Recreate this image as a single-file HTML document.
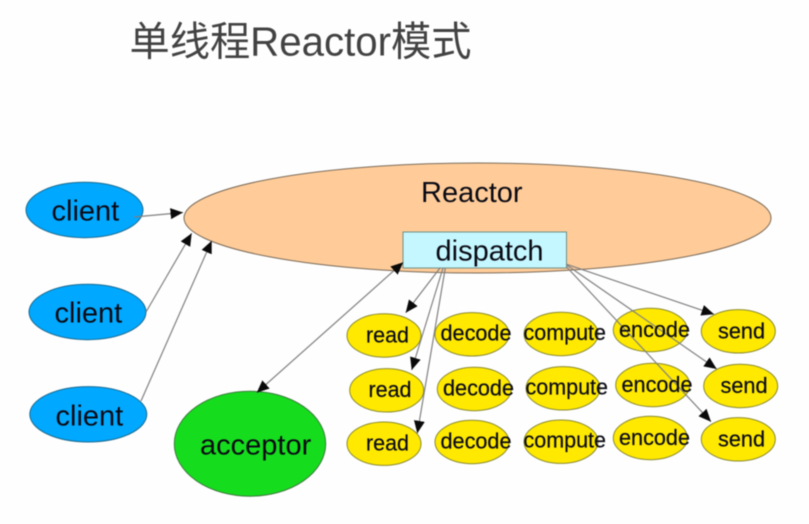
<!DOCTYPE html>
<html><head><meta charset="utf-8"><style>
html,body{margin:0;padding:0;background:#fefefe;width:809px;height:524px;overflow:hidden}
svg{display:block;filter:blur(.45px)}
text{font-family:"Liberation Sans","Noto Sans CJK SC",sans-serif;fill:#0a0a14}
.s{font-size:22.4px}.s text{stroke:#0a0a14;stroke-width:.2}.b{font-size:29px}
.y{fill:#ffe900;stroke:#8a8a30;stroke-width:1}
.c{fill:#00a8ff;stroke:#1a6a90;stroke-width:1}
.l{stroke:#808080;stroke-width:1.2;fill:none;marker-end:url(#a)}
</style></head><body>
<svg width="809" height="524" viewBox="0 0 809 524" xmlns="http://www.w3.org/2000/svg">
<defs>
<marker id="a" markerUnits="userSpaceOnUse" markerWidth="14" markerHeight="12" refX="12.500" refY="6" orient="auto"><path d="M0 0.500L12.500 6L0 11.500z" fill="#0a0a0a"/></marker>
<marker id="b" markerUnits="userSpaceOnUse" markerWidth="14" markerHeight="12" refX="12.500" refY="6" orient="auto-start-reverse"><path d="M0 0.500L12.500 6L0 11.500z" fill="#0a0a0a"/></marker>
</defs>
<text x="129.500" y="55.500" textLength="342" lengthAdjust="spacingAndGlyphs" style="font-size:40.5px;fill:#424242">单线程Reactor模式</text>
<ellipse cx="477.500" cy="218" rx="293.500" ry="55" fill="#ffcc99" stroke="#7a6a58"/>
<rect x="403" y="232" width="163.500" height="36" fill="#c4f7ff" stroke="#6f8f88"/>
<ellipse class="c" cx="84.500" cy="210" rx="58.500" ry="27.700"/>
<ellipse class="c" cx="87.500" cy="312" rx="58.500" ry="27.700"/>
<ellipse class="c" cx="88.300" cy="414.300" rx="58.500" ry="27.700"/>
<ellipse cx="250" cy="443.700" rx="75.700" ry="52.500" fill="#15dd1d" stroke="#3a7a3a"/>
<g class="y">
<ellipse cx="384" cy="335.500" rx="37" ry="21.700"/><ellipse cx="386.700" cy="390.300" rx="37" ry="21.700"/><ellipse cx="384" cy="443.700" rx="37" ry="21.700"/>
<ellipse cx="472" cy="334.300" rx="37" ry="21.700"/><ellipse cx="474.300" cy="389" rx="37" ry="21.700"/><ellipse cx="472" cy="442" rx="37" ry="21.700"/>
<ellipse cx="561" cy="334" rx="37" ry="21.700"/><ellipse cx="563" cy="388.300" rx="37" ry="21.700"/><ellipse cx="561" cy="441.700" rx="37" ry="21.700"/>
<ellipse cx="650.300" cy="330" rx="37" ry="21.700"/><ellipse cx="652.700" cy="385" rx="37" ry="21.700"/><ellipse cx="650.300" cy="438" rx="37" ry="21.700"/>
<ellipse cx="738.300" cy="331.300" rx="37" ry="21.700"/><ellipse cx="740.700" cy="386" rx="37" ry="21.700"/><ellipse cx="738.300" cy="439.300" rx="37" ry="21.700"/>
</g>
<line class="l" x1="134" y1="217" x2="183" y2="212.500"/>
<line class="l" x1="146" y1="312" x2="191.700" y2="233.300"/>
<line class="l" x1="141" y1="401" x2="211.700" y2="240.700"/>
<line x1="403.300" y1="262.300" x2="256.700" y2="392.700" stroke="#808080" stroke-width="1.200" marker-start="url(#b)" marker-end="url(#b)"/>
<line class="l" x1="440" y1="268" x2="405.700" y2="312.700"/>
<line class="l" x1="443" y1="268" x2="411.700" y2="370"/>
<line class="l" x1="445.300" y1="268" x2="417.300" y2="433.300"/>
<line class="l" x1="566.700" y1="264.300" x2="714" y2="314.300"/>
<line class="l" x1="566.700" y1="265" x2="716.700" y2="369"/>
<line class="l" x1="566.700" y1="267" x2="711" y2="421.700"/>
<text class="b" x="421" y="202">Reactor</text>
<text class="b" x="435.500" y="260.500">dispatch</text>
<text class="b" x="51.500" y="220.500">client</text>
<text class="b" x="54.500" y="322.500">client</text>
<text class="b" x="55.500" y="425.500">client</text>
<text class="b" x="200" y="454.500">acceptor</text>
<g class="s">
<text x="366" y="342.500" textLength="43" lengthAdjust="spacingAndGlyphs">read</text><text x="368.500" y="397" textLength="43" lengthAdjust="spacingAndGlyphs">read</text><text x="366" y="450.500" textLength="43" lengthAdjust="spacingAndGlyphs">read</text>
<text x="440.500" y="340.500" textLength="71" lengthAdjust="spacingAndGlyphs">decode</text><text x="443" y="395.500" textLength="71" lengthAdjust="spacingAndGlyphs">decode</text><text x="440.500" y="448.500" textLength="71" lengthAdjust="spacingAndGlyphs">decode</text>
<text x="523.500" y="340" textLength="82.500" lengthAdjust="spacingAndGlyphs">compute</text><text x="525.500" y="394.500" textLength="82.500" lengthAdjust="spacingAndGlyphs">compute</text><text x="523.500" y="447.500" textLength="82.500" lengthAdjust="spacingAndGlyphs">compute</text>
<text x="619" y="337" textLength="71" lengthAdjust="spacingAndGlyphs">encode</text><text x="621.500" y="392" textLength="71" lengthAdjust="spacingAndGlyphs">encode</text><text x="619" y="445" textLength="71" lengthAdjust="spacingAndGlyphs">encode</text>
<text x="718" y="338.500" textLength="47" lengthAdjust="spacingAndGlyphs">send</text><text x="720.500" y="393" textLength="47" lengthAdjust="spacingAndGlyphs">send</text><text x="718" y="446.500" textLength="47" lengthAdjust="spacingAndGlyphs">send</text>
</g>
</svg>
</body></html>
